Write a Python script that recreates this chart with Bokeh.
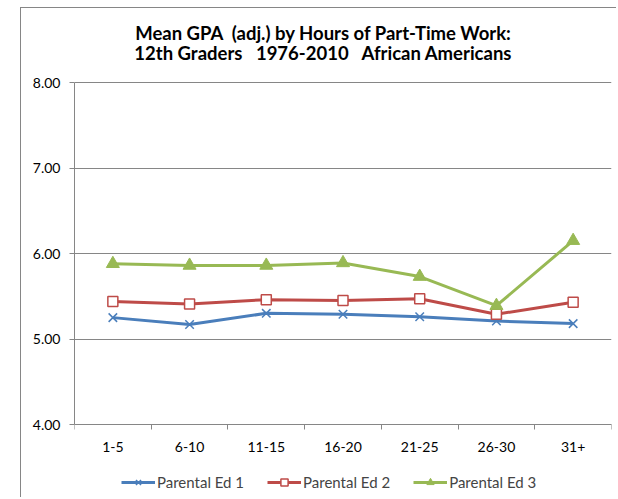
from bokeh.plotting import figure
from bokeh.models import FixedTicker, Legend, LegendItem, Label, Range1d
from bokeh.embed import file_html
from bokeh.resources import INLINE

categories = ["1-5", "6-10", "11-15", "16-20", "21-25", "26-30", "31+"]
ed1 = [5.25, 5.17, 5.30, 5.29, 5.26, 5.21, 5.18]
ed2 = [5.44, 5.41, 5.46, 5.45, 5.47, 5.29, 5.43]
ed3 = [5.88, 5.86, 5.86, 5.89, 5.73, 5.39, 6.15]
series_names = ["Parental Ed 1", "Parental Ed 2", "Parental Ed 3"]
y_ticks = [4, 5, 6, 7, 8]
# non-breaking spaces keep the wide gaps of the original title visible
title_lines = ["Mean GPA\u00a0 (adj.) by Hours of Part-Time Work:",
               "12th Graders\u00a0\u00a0 1976-2010\u00a0\u00a0 African Americans"]

FONT = "Lato"
GRID = "#868686"

xs = [i + 0.5 for i in range(len(categories))]

# the frame fills the whole canvas height; the value axis itself spans 4..8,
# the band above holds the title and the band below the labels and legend
PX_PER_UNIT = 85.5
Y_LOW = 4 - 74 / PX_PER_UNIT
Y_HIGH = 8 + 74 / PX_PER_UNIT
p = figure(width=596, height=490, output_backend="svg", toolbar_location=None,
           x_range=Range1d(0, len(categories)), y_range=Range1d(Y_LOW, Y_HIGH),
           min_border_left=53, min_border_right=6, min_border_top=0,
           min_border_bottom=0)
p.margin = (7, 0, 0, 20)
p.styles = {"border-left": "1px solid #868686", "border-top": "1px solid #868686"}
p.outline_line_color = None
p.background_fill_color = "white"
p.border_fill_color = "white"

# axes
p.xaxis.fixed_location = 4
p.xaxis.ticker = FixedTicker(ticks=xs, minor_ticks=list(range(len(categories) + 1)))
p.xaxis.major_label_overrides = {x: c for x, c in zip(xs, categories)}
p.xaxis.major_tick_out = 0
p.xaxis.major_tick_in = 0
p.xaxis.minor_tick_out = 5
p.xaxis.minor_tick_in = 0
p.xaxis.minor_tick_line_color = GRID
p.xaxis.axis_line_color = GRID
p.xaxis.major_label_standoff = 12
p.xaxis.major_label_text_font = FONT
p.xaxis.major_label_text_font_size = "14px"
p.xaxis.major_label_text_color = "black"

p.yaxis.bounds = (4, 8)
p.yaxis.ticker = FixedTicker(ticks=y_ticks, minor_ticks=[])
p.yaxis.major_label_overrides = {t: f"{t:.2f}" for t in y_ticks}
p.yaxis.major_tick_out = 5
p.yaxis.major_tick_in = 0
p.yaxis.major_tick_line_color = GRID
p.yaxis.axis_line_color = GRID
p.yaxis.major_label_standoff = 9
p.yaxis.major_label_text_font = FONT
p.yaxis.major_label_text_font_size = "14px"
p.yaxis.major_label_text_color = "black"

p.xgrid.grid_line_color = None
p.ygrid.ticker = FixedTicker(ticks=y_ticks)
p.ygrid.grid_line_color = GRID
p.ygrid.grid_line_width = 1

# series
l1 = p.line(xs, ed1, line_color="#4A7EBB", line_width=3)
m1 = p.scatter(xs, ed1, marker="x", size=12, line_color="#4A7EBB", line_width=1.5)
l2 = p.line(xs, ed2, line_color="#BE4B48", line_width=3)
m2 = p.scatter(xs, ed2, marker="square", size=10, line_color="#BE4B48",
               fill_color="white", line_width=1.5)
l3 = p.line(xs, ed3, line_color="#98B954", line_width=3)
m3 = p.scatter(xs, ed3, marker="triangle", size=13, line_color="#98B954",
               fill_color="#98B954")

legend = Legend(items=[LegendItem(label=series_names[0], renderers=[l1, m1]),
                       LegendItem(label=series_names[1], renderers=[l2, m2]),
                       LegendItem(label=series_names[2], renderers=[l3, m3])],
                orientation="horizontal", location=(47, 7),
                label_text_font=FONT, label_text_font_size="15px",
                glyph_width=34, glyph_height=18, label_standoff=2, spacing=23,
                padding=2, margin=0, border_line_color=None,
                background_fill_alpha=0)
p.add_layout(legend, "center")

# title (screen units are measured from the plot frame's bottom-left)
for i, t in enumerate(title_lines):
    p.add_layout(Label(x=249, y=466 - 20 * i, x_units="screen", y_units="screen",
                       text=t, text_align="center", text_baseline="middle",
                       text_font=FONT, text_font_style="bold",
                       text_font_size="18.5px", text_color="black"))

open("out.html", "w").write(file_html(p, INLINE))
